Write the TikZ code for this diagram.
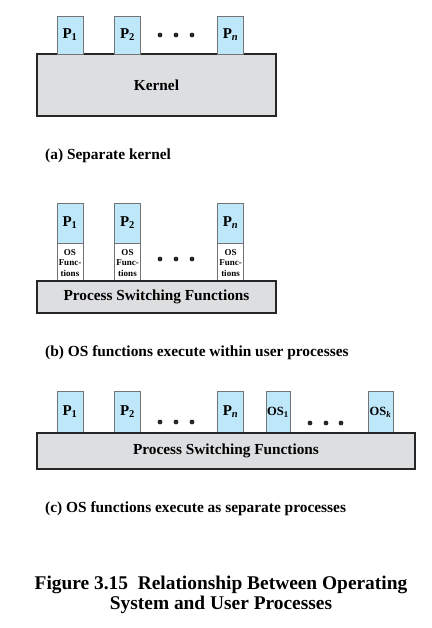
\documentclass[tikz,border=0pt]{standalone}
\usepackage{fontspec}
\setmainfont{Liberation Serif}
\usetikzlibrary{positioning}
\definecolor{procblue}{RGB}{191,231,250}
\definecolor{kerngray}{RGB}{221,222,224}
\tikzstyle{proc} = [rectangle, minimum width=26pt, minimum height=38pt, inner sep=0pt, draw=black!55, line width=0.8pt, fill=procblue, font=\fontsize{15}{15}\selectfont\bfseries]
\tikzstyle{osfun} = [rectangle, minimum width=26pt, minimum height=38pt, inner sep=0pt, align=center, draw=black!55, line width=0.8pt, fill=white, font=\fontsize{9}{10.5}\selectfont\bfseries]
\tikzstyle{kern} = [rectangle, inner sep=0pt, draw=black!85, line width=2.6pt, fill=kerngray, font=\fontsize{15.3}{15.3}\selectfont\bfseries]
\tikzstyle{caption} = [anchor=west, inner sep=0pt, font=\fontsize{15.4}{15.4}\selectfont\bfseries]
\tikzstyle{figcap} = [align=center, inner sep=0pt, font=\fontsize{19.4}{20.5}\selectfont\bfseries]

\begin{document}
\begin{tikzpicture}[x=1pt, y=-1pt]
\useasboundingbox (0,0) rectangle (431,628);

% (a) separate kernel
\node (kern) [kern, minimum width=239pt, minimum height=62pt] at (156.5,85) {Kernel};
\node (ap1) [proc] at (70,35) {P\textsubscript{1}};
\node (ap2) [proc] at (127.5,35) {P\textsubscript{2}};
\node (apn) [proc] at (230.5,35) {P\textsubscript{\textit{n}}};
\foreach \x in {160,176,192} \fill[black!85] (\x,35) circle (2.4pt);
\node (capa) [caption] at (45,156) {(a) Separate kernel};

% (b) OS functions inside the user processes
\node (bp1) [proc, minimum height=40pt] at (70,223) {P\textsubscript{1}};
\node (bp2) [proc, minimum height=40pt] at (127.5,223) {P\textsubscript{2}};
\node (bpn) [proc, minimum height=40pt] at (230.5,223) {P\textsubscript{\textit{n}}};
\node (bf1) [osfun, below=0pt of bp1] {OS\\Func-\\tions};
\node (bf2) [osfun, below=0pt of bp2] {OS\\Func-\\tions};
\node (bfn) [osfun, below=0pt of bpn] {OS\\Func-\\tions};
\node (bpsf) [kern, minimum width=239pt, minimum height=32pt] at (156.5,297) {Process Switching Functions};
\foreach \x in {160,176,192} \fill[black!85] (\x,259) circle (2.4pt);
\node (capb) [caption] at (45,353) {(b) OS functions execute within user processes};

% (c) OS functions as separate processes
\node (cp1) [proc, minimum height=42pt] at (70,412) {P\textsubscript{1}};
\node (cp2) [proc, minimum height=42pt] at (127.5,412) {P\textsubscript{2}};
\node (cpn) [proc, minimum height=42pt] at (230.5,412) {P\textsubscript{\textit{n}}};
\node (cos1) [proc, minimum height=42pt, minimum width=24pt, font=\fontsize{12.5}{12.5}\selectfont\bfseries] at (278,412) {OS\textsubscript{1}};
\node (cosk) [proc, minimum height=42pt, minimum width=25pt, font=\fontsize{12.5}{12.5}\selectfont\bfseries] at (380.5,412) {OS\textsubscript{\textit{k}}};
\node (cpsf) [kern, minimum width=378pt, minimum height=36pt] at (226,451) {Process Switching Functions};
\foreach \x in {160,176,192} \fill[black!85] (\x,422) circle (2.4pt);
\foreach \x in {310,326,341} \fill[black!85] (\x,423) circle (2.4pt);
\node (capc) [caption] at (45,509) {(c) OS functions execute as separate processes};

% figure caption
\node (fig) [figcap] at (221,595) {Figure 3.15\ \ Relationship Between Operating\\System and User Processes};
\end{tikzpicture}
\end{document}
